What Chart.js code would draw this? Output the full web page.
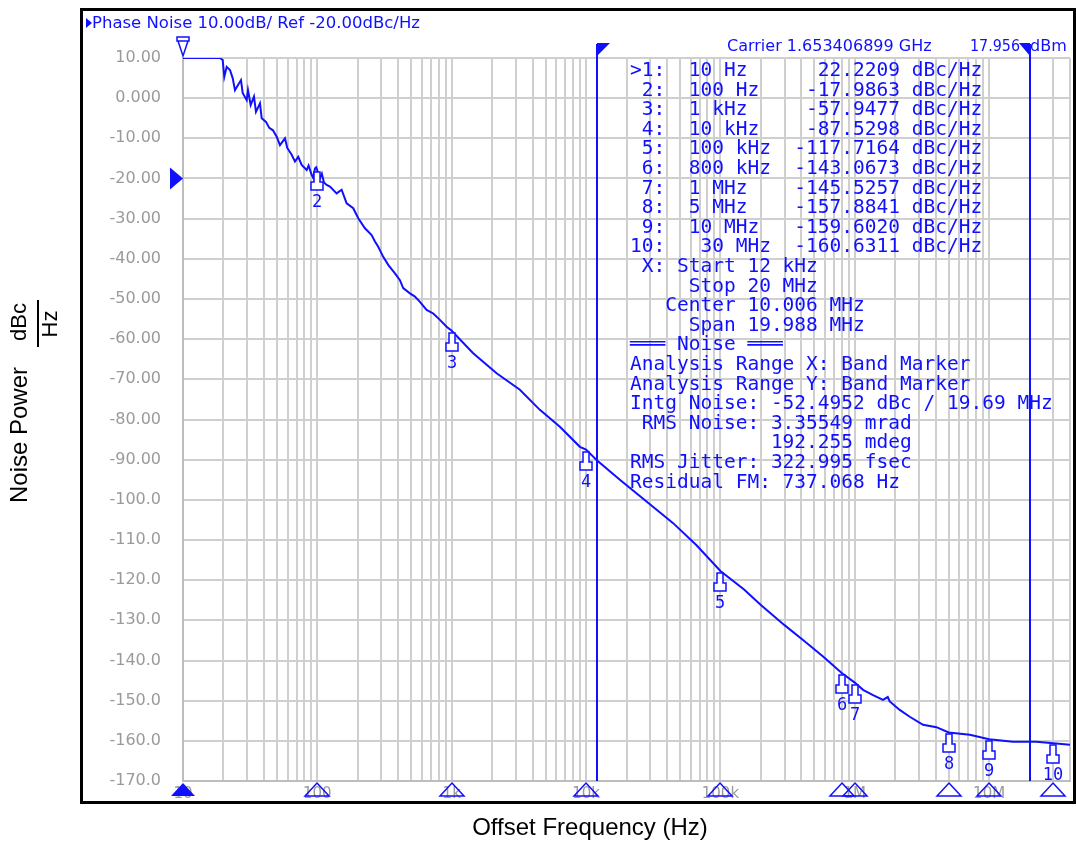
<!DOCTYPE html>
<html>
<head>
<meta charset="utf-8">
<script src="https://cdn.jsdelivr.net/npm/chart.js@4.4.1/dist/chart.umd.min.js"></script>
<style>
  body { margin: 0; background: #fff; }
</style>
</head>
<body>
<canvas id="pn" width="1076" height="842"></canvas>

<script>
// trace (display clamps at the 10 dB top line)
const freqHz = [10, 18.85, 19.74, 20.29, 21.14, 22.37, 23.43, 24.37, 25.67, 27.01, 27.81,
  29.78, 30.45, 31.89, 33.75, 34.93, 37.41, 38.52, 41.46, 43.86, 46.73, 49.8, 52.69,
  57.41, 59.7, 64.41, 68.15, 72.1, 76.42, 83.25, 86, 90.7, 93, 96, 98, 100, 102, 104.5,
  108, 112, 117.3, 124.1, 139.2, 151.6, 165.2, 185, 201.6, 226.1, 253.5, 268.3, 283.9,
  309.3, 336.9, 378, 411.7, 435.6, 488.7, 532.3, 580, 650.6, 728.5, 817, 916.5, 1000,
  1445, 2159, 3217, 4532, 6386, 8994, 10000, 11970, 17846, 28190, 44480, 66410, 100000,
  150000, 200000, 300000, 412000, 580800, 800000, 1e6, 1.153e6, 1.368e6, 1.624e6, 1.76e6,
  1.821e6, 2.161e6, 2.566e6, 3.224e6, 4.055e6, 5e6, 7.175e6, 1e7, 1.506e7, 2.248e7, 3e7, 4e7];
const noiseDbc = [10, 10, 9.5, 5.3, 7.8, 7, 5, 2, 3.3, 4.5, 1.3,
  -0.5, 2, -1.7, 0.4, -3.4, -1.3, -5, -5.9, -7.4, -8, -9.6, -11.7,
  -10, -12.4, -14.1, -15.8, -14.6, -16.6, -17.9, -16.8, -19.1, -19.8, -17.5, -17.2, -18, -19.5, -19.9,
  -18.8, -21, -21.6, -22, -23.7, -22.8, -26.2, -27.4, -29.9, -32.4, -34.1, -35.7, -37,
  -39.5, -41.5, -43.6, -45.3, -47.3, -48.6, -49.4, -50.7, -52.7, -53.6, -55.2, -56.9, -57.9,
  -63.5, -68.5, -72.6, -77.6, -81.8, -86.8, -87.5, -90.1, -95, -100.4, -105.8, -111.3, -117.7,
  -122.3, -126.2, -131.2, -134.9, -139, -143.1, -145.5, -147.3, -148.6, -149.8, -149.1,
  -150.2, -152.3, -154, -156, -156.6, -157.9, -158.5, -159.6, -160.2, -160.2, -160.6, -161];

// markers 1..10
const markerNum = [1, 2, 3, 4, 5, 6, 7, 8, 9, 10];
const markerHz = [10, 100, 1e3, 1e4, 1e5, 8e5, 1e6, 5e6, 1e7, 3e7];
const markerDbc = [22.2209, -17.9863, -57.9477, -87.5298, -117.7164, -143.0673,
  -145.5257, -157.8841, -159.6020, -160.6311];

const bandStartHz = 12e3;
const bandStopHz = 20e6;
const refLevel = -20;

const xDecades = [10, 100, 1e3, 1e4, 1e5, 1e6, 1e7];
const xTickLabels = ["10", "100", "1k", "10k", "100k", "1M", "10M"];
const yTickValues = [10, 0, -10, -20, -30, -40, -50, -60, -70, -80, -90,
  -100, -110, -120, -130, -140, -150, -160, -170];
const yTickLabels = ["10.00", "0.000", "-10.00", "-20.00", "-30.00", "-40.00", "-50.00",
  "-60.00", "-70.00", "-80.00", "-90.00", "-100.0", "-110.0", "-120.0", "-130.0",
  "-140.0", "-150.0", "-160.0", "-170.0"];

const tableLines = [
  ">1:  10 Hz      22.2209 dBc/Hz",
  " 2:  100 Hz    -17.9863 dBc/Hz",
  " 3:  1 kHz     -57.9477 dBc/Hz",
  " 4:  10 kHz    -87.5298 dBc/Hz",
  " 5:  100 kHz  -117.7164 dBc/Hz",
  " 6:  800 kHz  -143.0673 dBc/Hz",
  " 7:  1 MHz    -145.5257 dBc/Hz",
  " 8:  5 MHz    -157.8841 dBc/Hz",
  " 9:  10 MHz   -159.6020 dBc/Hz",
  "10:   30 MHz  -160.6311 dBc/Hz",
  " X: Start 12 kHz",
  "     Stop 20 MHz",
  "   Center 10.006 MHz",
  "     Span 19.988 MHz",
  "═══ Noise ═══",
  "Analysis Range X: Band Marker",
  "Analysis Range Y: Band Marker",
  "Intg Noise: -52.4952 dBc / 19.69 MHz",
  " RMS Noise: 3.35549 mrad",
  "            192.255 mdeg",
  "RMS Jitter: 322.995 fsec",
  "Residual FM: 737.068 Hz"
];

const BLUE = '#1010ff';
const GRID = '#cfcfcf';

const overlay = {
  id: 'overlay',
  afterDraw(chart) {
    const ctx = chart.ctx, a = chart.chartArea;
    const x = chart.scales.x, y = chart.scales.y;
    ctx.save();

    // frame
    ctx.strokeStyle = '#000';
    ctx.lineWidth = 3;
    ctx.strokeRect(81.5, 9.5, 993, 793);

    ctx.fillStyle = BLUE;
    ctx.strokeStyle = BLUE;

    // band marker lines
    ctx.lineWidth = 2;
    [bandStartHz, bandStopHz].forEach(function(f, i) {
      const px = Math.round(x.getPixelForValue(f));
      ctx.beginPath();
      ctx.moveTo(px, 44);
      ctx.lineTo(px, a.bottom);
      ctx.stroke();
      ctx.beginPath();
      ctx.moveTo(px, 43);
      ctx.lineTo(i == 0 ? px + 13 : px - 11, 43);
      ctx.lineTo(px, 56);
      ctx.closePath();
      ctx.fill();
    });

    // markers on the trace
    ctx.lineWidth = 1.5;
    ctx.font = '17px "DejaVu Sans Mono"';
    ctx.textAlign = 'center';
    ctx.textBaseline = 'middle';
    for (let i = 0; i < markerNum.length; i++) {
      const px = Math.round(x.getPixelForValue(markerHz[i]));
      if (markerDbc[i] <= 10) {
        const py = Math.round(y.getPixelForValue(markerDbc[i])) + 2;
        ctx.beginPath();
        ctx.moveTo(px - 3, py);
        ctx.lineTo(px + 3, py);
        ctx.lineTo(px + 3, py + 10);
        ctx.lineTo(px + 6, py + 10);
        ctx.lineTo(px + 6, py + 18);
        ctx.lineTo(px - 6, py + 18);
        ctx.lineTo(px - 6, py + 10);
        ctx.lineTo(px - 3, py + 10);
        ctx.closePath();
        ctx.fillStyle = '#fff';
        ctx.fill();
        ctx.stroke();
        ctx.fillStyle = BLUE;
        ctx.fillText(String(markerNum[i]), px, py + 31);
      } else {
        // off the top of the screen
        ctx.beginPath();
        ctx.rect(px - 6, 37, 12, 4);
        ctx.moveTo(px - 5, 41);
        ctx.lineTo(px, 56);
        ctx.lineTo(px + 5, 41);
        ctx.stroke();
      }
      // triangles under the axis
      ctx.beginPath();
      ctx.moveTo(px, a.bottom + 2);
      ctx.lineTo(px + 12, a.bottom + 15);
      ctx.lineTo(px - 12, a.bottom + 15);
      ctx.closePath();
      if (i == 0) ctx.fill(); else ctx.stroke();
    }

    // reference level arrow
    const ry = y.getPixelForValue(refLevel);
    ctx.beginPath();
    ctx.moveTo(170, ry - 11);
    ctx.lineTo(183, ry);
    ctx.lineTo(170, ry + 11);
    ctx.closePath();
    ctx.fill();

    // header texts
    ctx.textAlign = 'left';
    ctx.beginPath();
    ctx.moveTo(86, 18);
    ctx.lineTo(92, 23);
    ctx.lineTo(86, 28);
    ctx.closePath();
    ctx.fill();
    ctx.font = '16.5px "DejaVu Sans"';
    ctx.fillText('Phase Noise 10.00dB/ Ref -20.00dBc/Hz', 92, 24, 328);
    ctx.font = '16px "DejaVu Sans"';
    ctx.fillText('Carrier 1.653406899 GHz', 727, 47, 206);
    ctx.fillText('17.956', 970, 47, 50);
    ctx.fillText('dBm', 1030, 47);

    // marker / noise table
    ctx.font = '19.5px "DejaVu Sans Mono"';
    tableLines.forEach(function(s, i) {
      ctx.fillText(s, 630, 71 + i * 19.6);
    });

    // axis titles
    ctx.fillStyle = '#000';
    ctx.strokeStyle = '#000';
    ctx.font = '24px "Liberation Sans"';
    ctx.textAlign = 'center';
    ctx.fillText('Offset Frequency (Hz)', 590, 828);
    ctx.translate(20, 435);
    ctx.rotate(-Math.PI / 2);
    ctx.fillText('Noise Power', 0, 0);
    ctx.font = '22px "Liberation Sans"';
    ctx.fillText('dBc', 113, 0);
    ctx.fillText('Hz', 111, 31);
    ctx.lineWidth = 2;
    ctx.beginPath();
    ctx.moveTo(88, 18);
    ctx.lineTo(135, 18);
    ctx.stroke();

    ctx.restore();
  }
};

const points = freqHz.map(function(f, i) { return { x: f, y: noiseDbc[i] }; });

new Chart(document.getElementById('pn'), {
  type: 'line',
  data: {
    datasets: [{
      data: points,
      borderColor: BLUE,
      borderWidth: 2,
      pointRadius: 0,
      tension: 0,
      fill: false
    }]
  },
  options: {
    responsive: false,
    devicePixelRatio: 1,
    animation: false,
    layout: { padding: { top: 58, right: 6, left: 0, bottom: 0 } },
    plugins: { legend: { display: false }, tooltip: { enabled: false } },
    scales: {
      x: {
        type: 'logarithmic',
        min: 10,
        max: 4e7,
        afterFit: function(scale) { scale.height = 61; },
        afterBuildTicks: function(scale) {
          const t = [];
          xDecades.forEach(function(d) {
            for (let m = 1; m <= 9; m++) {
              if (m * d <= 4e7) t.push({ value: m * d });
            }
          });
          scale.ticks = t;
        },
        grid: { color: GRID, lineWidth: 2, drawTicks: false },
        border: { color: '#bdbdbd', width: 2 },
        ticks: {
          autoSkip: false,
          maxRotation: 0,
          padding: 4,
          color: '#9a9a9a',
          font: { family: 'DejaVu Sans', size: 15 },
          callback: function(v) {
            const k = xDecades.indexOf(v);
            return k >= 0 ? xTickLabels[k] : '';
          }
        }
      },
      y: {
        min: -170,
        max: 10,
        afterFit: function(scale) { scale.width = 183; },
        afterBuildTicks: function(scale) {
          scale.ticks = yTickValues.map(function(v) { return { value: v }; });
        },
        grid: { color: GRID, lineWidth: 2, drawTicks: false },
        border: { color: '#bdbdbd', width: 2 },
        ticks: {
          padding: 22,
          color: '#9a9a9a',
          font: { family: 'DejaVu Sans', size: 16 },
          callback: function(v) {
            return yTickLabels[yTickValues.indexOf(v)];
          }
        }
      }
    }
  },
  plugins: [overlay]
});
</script>
</body>
</html>
